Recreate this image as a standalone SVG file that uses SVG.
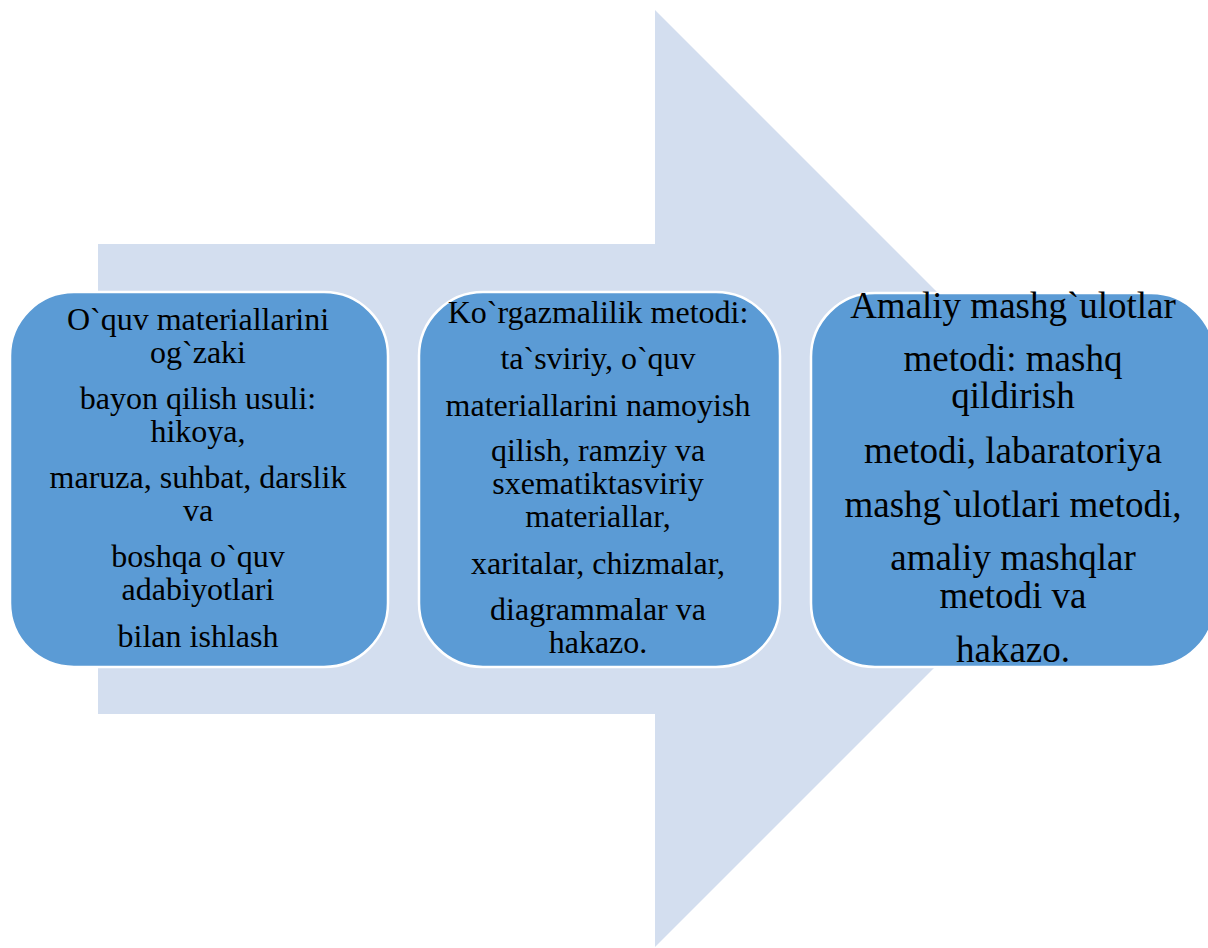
<svg xmlns="http://www.w3.org/2000/svg" width="1208" height="948" viewBox="0 0 1208 948">
<style>
.box{fill:#5B9BD5;stroke:#FFFFFF;stroke-width:2.5}
.t{font-family:"Liberation Serif","Times New Roman",serif;font-size:32px;fill:#000;text-anchor:middle}
.t3{font-size:37px}
</style>
<rect width="1208" height="948" fill="#FFFFFF"/>
<g id="arrow">
<polygon points="98,244 655,244 655,10 1123.5,478.5 655,947 655,714 98,714" fill="#D3DEEF"/>
</g>
<g id="connectors"></g>
<g id="node1">
<rect class="box" x="10" y="292" width="378" height="375" rx="64" ry="64"/>
<text class="t" x="198" y="330">O`quv materiallarini</text>
<text class="t" x="198" y="363">og`zaki</text>
<text class="t" x="198" y="409">bayon qilish usuli:</text>
<text class="t" x="198" y="442">hikoya,</text>
<text class="t" x="198" y="488">maruza, suhbat, darslik</text>
<text class="t" x="198" y="521">va</text>
<text class="t" x="198" y="567">boshqa o`quv</text>
<text class="t" x="198" y="600">adabiyotlari</text>
<text class="t" x="198" y="647">bilan ishlash</text>
</g>
<g id="node2">
<rect class="box" x="419" y="292" width="361" height="375" rx="64" ry="64"/>
<text class="t" x="598" y="323">Ko`rgazmalilik metodi:</text>
<text class="t" x="598" y="369">ta`sviriy, o`quv</text>
<text class="t" x="598" y="416">materiallarini namoyish</text>
<text class="t" x="598" y="461">qilish, ramziy va</text>
<text class="t" x="598" y="494">sxematiktasviriy</text>
<text class="t" x="598" y="527">materiallar,</text>
<text class="t" x="598" y="574">xaritalar, chizmalar,</text>
<text class="t" x="598" y="620">diagrammalar va</text>
<text class="t" x="598" y="653">hakazo.</text>
</g>
<g id="node3">
<rect class="box" x="811" y="293" width="404" height="374" rx="64" ry="64"/>
<text class="t t3" x="1013" y="318">Amaliy mashg`ulotlar</text>
<text class="t t3" x="1013" y="371">metodi: mashq</text>
<text class="t t3" x="1013" y="408">qildirish</text>
<text class="t t3" x="1013" y="463">metodi, labaratoriya</text>
<text class="t t3" x="1013" y="517">mashg`ulotlari metodi,</text>
<text class="t t3" x="1013" y="570">amaliy mashqlar</text>
<text class="t t3" x="1013" y="608">metodi va</text>
<text class="t t3" x="1013" y="662">hakazo.</text>
</g>
</svg>
